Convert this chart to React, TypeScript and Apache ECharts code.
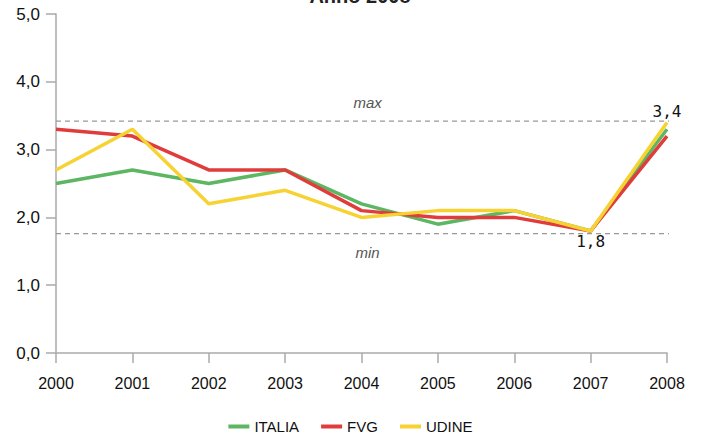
import React, { useEffect, useRef } from "react";
import * as echarts from "echarts";

const years = ["2000", "2001", "2002", "2003", "2004", "2005", "2006", "2007", "2008"];
const italia = [2.5, 2.7, 2.5, 2.7, 2.2, 1.9, 2.1, 1.8, 3.3];
const fvg = [3.3, 3.2, 2.7, 2.7, 2.1, 2.0, 2.0, 1.8, 3.2];
const udine = [2.7, 3.3, 2.2, 2.4, 2.0, 2.1, 2.1, 1.8, 3.4];
const maxRef = 3.42;
const minRef = 1.76;
const title = "Anno 2008";

const FONT = "'Liberation Sans', Arial, sans-serif";

export default function App() {
  const ref = useRef<HTMLDivElement>(null);
  useEffect(() => {
    if (!ref.current) return;
    const chart = echarts.init(ref.current, null, { renderer: "svg" });
    const refLine = (val: number, label: string, pos: string) => ({
      type: "line",
      xAxisIndex: 1,
      yAxisIndex: 0,
      clip: false,
      symbol: "circle",
      symbolSize: 0.001,
      showSymbol: true,
      silent: true,
      z: 1,
      lineStyle: { color: "#999", width: 1.3, type: [5, 4] },
      itemStyle: { color: "#999" },
      data: [
        [0, val],
        {
          value: [4.08, val],
          label: {
            show: true,
            position: pos,
            distance: 11,
            formatter: label,
            fontFamily: FONT,
            fontStyle: "italic",
            fontSize: 15,
            color: "#555",
          },
        },
        [8.12, val],
      ],
    });
    const lineSeries = (name: string, data: any[], color: string, extra: any = {}) => ({
      name,
      type: "line",
      data,
      symbol: "circle",
      symbolSize: 0.001,
      showSymbol: true,
      lineStyle: { color, width: 3.5 },
      itemStyle: { color },
      z: 3,
      ...extra,
    });
    const monoLabel = {
      fontFamily: "'DejaVu Sans Mono', monospace",
      fontSize: 16,
      color: "#111",
    };
    const fmt = (p: any) => String(p.value).replace(".", ",");
    chart.setOption({
      animation: false,
      backgroundColor: "#fff",
      graphic: [
        {
          type: "text",
          x: 360,
          y: -14,
          style: {
            text: title,
            fontFamily: FONT,
            fontWeight: "bold",
            fontSize: 20,
            fill: "#222",
            textAlign: "center",
          },
        },
      ],
      grid: { left: 56, right: 34, top: 14, bottom: 83 },
      legend: {
        bottom: -3,
        left: "center",
        icon: "rect",
        itemWidth: 21,
        itemHeight: 4,
        itemGap: 22,
        textStyle: { fontFamily: FONT, fontSize: 15, color: "#111" },
        data: ["ITALIA", "FVG", "UDINE"],
      },
      xAxis: [
        {
          type: "category",
          data: years,
          boundaryGap: false,
          axisLine: { lineStyle: { color: "#aaa", width: 1.5 } },
          axisTick: { show: true, length: 10, lineStyle: { color: "#aaa", width: 1.5 } },
          axisLabel: { fontFamily: FONT, fontSize: 16, color: "#111", margin: 22 },
          splitLine: { show: false },
        },
        {
          type: "value",
          min: 0,
          max: 8,
          show: false,
        },
      ],
      yAxis: {
        type: "value",
        min: 0,
        max: 5,
        interval: 1,
        axisLine: { show: true, lineStyle: { color: "#aaa", width: 1.5 } },
        axisTick: { show: true, length: 10, lineStyle: { color: "#aaa", width: 1.5 } },
        axisLabel: {
          fontFamily: FONT,
          fontSize: 17,
          color: "#111",
          margin: 16,
          formatter: (v: number) => v.toFixed(1).replace(".", ","),
        },
        splitLine: { show: false },
      },
      series: [
        refLine(maxRef, "max", "top"),
        refLine(minRef, "min", "bottom"),
        lineSeries("ITALIA", italia, "#5cb662"),
        lineSeries("FVG", fvg, "#e03c3c"),
        lineSeries(
          "UDINE",
          udine.map((v, i) => {
            if (i === 8)
              return { value: v, label: { show: true, position: "top", distance: 3, formatter: fmt, ...monoLabel } };
            if (i === 7)
              return { value: v, label: { show: true, position: "bottom", distance: 3, formatter: fmt, ...monoLabel } };
            return v;
          }),
          "#f6d232",
          { z: 4 }
        ),
      ],
    });
    return () => chart.dispose();
  }, []);
  return (
    <div
      ref={ref}
      style={{ position: "fixed", left: 0, top: 0, width: 701, height: 436 }}
    />
  );
}
